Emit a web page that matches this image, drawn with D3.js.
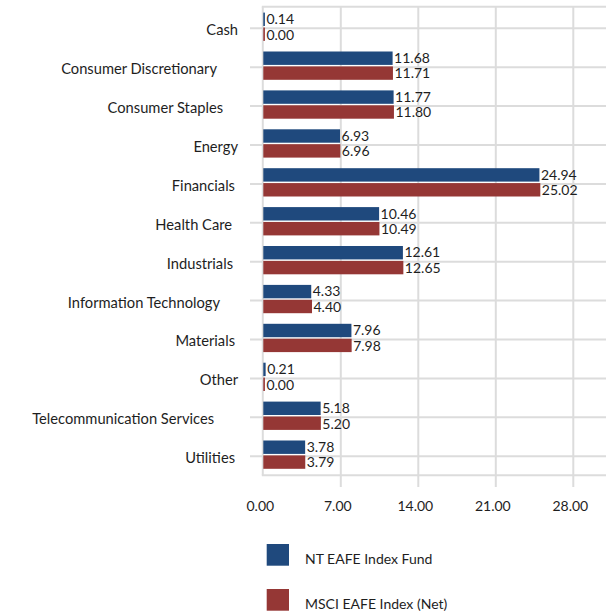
<!DOCTYPE html>
<html>
<head>
<meta charset="utf-8">
<script src="https://cdn.jsdelivr.net/npm/d3@7"></script>
<style>
  html, body { margin: 0; padding: 0; background: #fff; }
  svg { display: block; }
  text { font-family: "Lato", "Liberation Sans", sans-serif; fill: #1e1e1e; }
</style>
</head>
<body>
<svg id="chart" width="606" height="613"></svg>
<script>
// ---- data ----
const categories = ["Cash", "Consumer Discretionary", "Consumer Staples", "Energy", "Financials",
  "Health Care", "Industrials", "Information Technology", "Materials", "Other",
  "Telecommunication Services", "Utilities"];
const seriesNames = ["NT EAFE Index Fund", "MSCI EAFE Index (Net)"];
const fundValues  = [0.14, 11.68, 11.77, 6.93, 24.94, 10.46, 12.61, 4.33, 7.96, 0.21, 5.18, 3.78];
const indexValues = [0.00, 11.71, 11.80, 6.96, 25.02, 10.49, 12.65, 4.40, 7.98, 0.00, 5.20, 3.79];
const tickValues = [0, 7, 14, 21, 28];
const tickLabels = ["0.00", "7.00", "14.00", "21.00", "28.00"];

// ---- styles / layout ----
const colors = ["#1F497D", "#953735"];
const gridColor = "#dcdcdc";
const fontSize = 14;
const catFontSize = 14.7;
// right-edge shift of each category label (Excel label padding)
const labelShift = { "Consumer Discretionary": 21, "Consumer Staples": 15, "Information Technology": 18,
  "Telecommunication Services": 24, "Health Care": 6, "Industrials": 5, "Financials": 3,
  "Materials": 3, "Utilities": 3 };

const svg = d3.select("#chart");
const x = d3.scaleLinear().domain([0, 35]).range([263.3, 650.8]);
const y = d3.scaleBand().domain(categories).range([8.85, 475.65]).paddingInner(0).paddingOuter(0);
const sub = d3.scaleBand().domain(seriesNames).range([-15.7, 12.6]).paddingInner(0.1);
const center = c => y(c) + y.step() / 2;
const plotTop = 6.7, plotBottom = 475.3, plotRight = 606;

// gridlines
const g = svg.append("g");
g.selectAll("line.h").data(categories).join("line")
  .attr("x1", 250).attr("x2", plotRight)
  .attr("y1", d => center(d)).attr("y2", d => center(d))
  .attr("stroke", gridColor).attr("stroke-width", 2);
g.append("line").attr("x1", x(0) - 1.5).attr("x2", plotRight).attr("y1", plotTop).attr("y2", plotTop)
  .attr("stroke", gridColor).attr("stroke-width", 2);
g.append("line").attr("x1", x(0) - 1.5).attr("x2", plotRight).attr("y1", plotBottom).attr("y2", plotBottom)
  .attr("stroke", gridColor).attr("stroke-width", 2);
g.selectAll("line.v").data(tickValues).join("line")
  .attr("x1", d => d === 0 ? x(d) - 0.5 : x(d)).attr("x2", d => d === 0 ? x(d) - 0.5 : x(d))
  .attr("y1", plotTop).attr("y2", d => d === 0 ? plotBottom : 487)
  .attr("stroke", gridColor).attr("stroke-width", 2);

// bars
const rows = categories.map((c, i) => ({ c, vals: [fundValues[i], indexValues[i]] }));
const bars = svg.append("g");
rows.forEach(r => {
  r.vals.forEach((v, k) => {
    const yy = center(r.c) + sub(seriesNames[k]);
    bars.append("rect")
      .attr("x", x(0))
      .attr("y", yy)
      .attr("width", Math.max(x(v) - x(0), 1.6))
      .attr("height", sub.bandwidth())
      .attr("fill", colors[k]);
    bars.append("text")
      .attr("x", Math.max(x(v), x(0) + 1.6) + 1.5)
      .attr("y", yy + sub.bandwidth() / 2 + (k === 0 ? -0.3 : 0.3))
      .attr("dy", "0.36em")
      .attr("font-size", fontSize)
      .text(d3.format(".2f")(v));
  });
});

// category labels
svg.append("g").selectAll("text").data(categories).join("text")
  .attr("x", d => 238 - (labelShift[d] || 0))
  .attr("y", d => center(d))
  .attr("dy", "0.47em")
  .attr("text-anchor", "end")
  .attr("font-size", catFontSize)
  .text(d => d);

// x tick labels
svg.append("g").selectAll("text").data(tickValues).join("text")
  .attr("x", d => x(d) - 3)
  .attr("y", 510.7)
  .attr("text-anchor", "middle")
  .attr("font-size", fontSize)
  .text((d, i) => tickLabels[i]);

// legend
const legend = svg.append("g");
seriesNames.forEach((s, i) => {
  const top = 544 + i * 45;
  legend.append("rect").attr("x", 266.7).attr("y", top).attr("width", 22.3).attr("height", 21.7)
    .attr("fill", colors[i]);
  legend.append("text").attr("x", 305).attr("y", top + 20.3)
    .attr("font-size", fontSize).text(s);
});
</script>
</body>
</html>
